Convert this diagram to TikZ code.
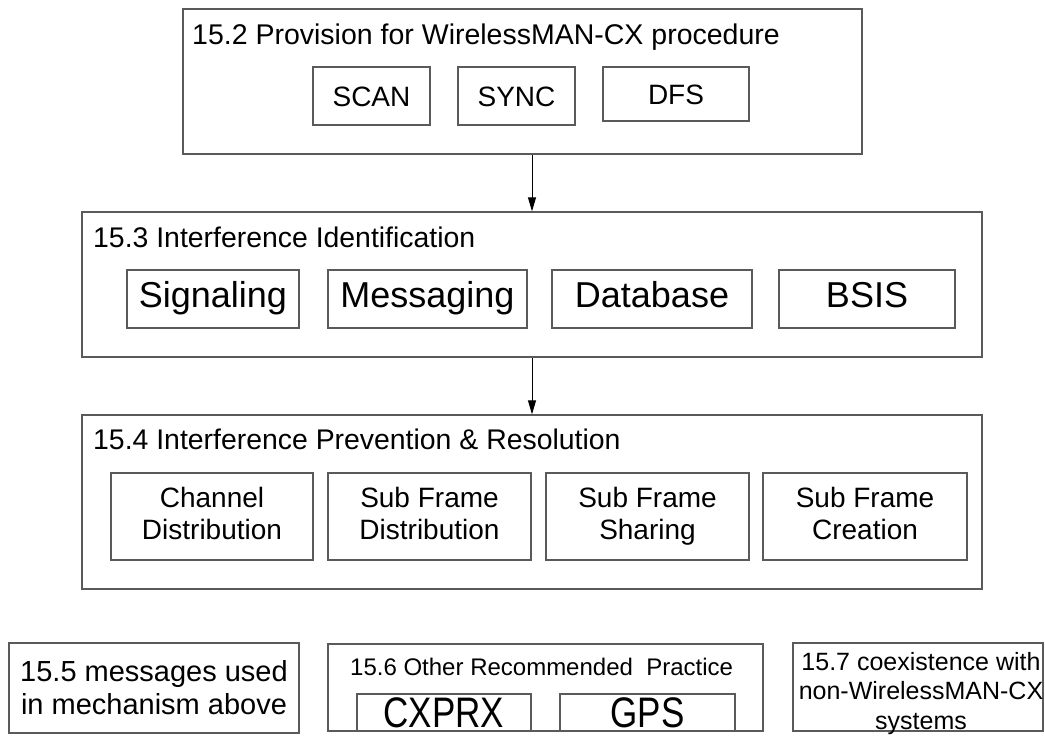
\documentclass[tikz,border=0pt]{standalone}
\usepackage{fontspec}
\setmainfont{Liberation Sans}
\usetikzlibrary{arrows.meta}
\definecolor{edge}{RGB}{90,90,90}

\begin{document}
\begin{tikzpicture}[x=1pt, y=-1pt,
	frame/.style={draw=edge, line width=1.3pt, inner sep=0pt, align=center},
	cell/.style={draw=edge, line width=1.1pt, inner sep=0pt, align=center},
	ttl/.style={anchor=base west, inner sep=0pt},
	arr/.style={-{Triangle[length=14pt,width=8pt]}, line width=0.9pt}]
		\useasboundingbox (0,0) rectangle (1045,736);

		\node[frame, minimum width=679, minimum height=145] (prov) at (522.5,81.5) {};
		\node[ttl, font=\fontsize{28.5}{32}\selectfont] (provttl) at (192,44) {15.2 Provision for WirelessMAN-CX procedure};
		\begin{scope}[every node/.append style={font=\fontsize{28}{32}\selectfont, text height=20pt, text depth=0pt, minimum height=58}]
			\node[cell, minimum width=117] (scan) at (371.5,96) {SCAN};
			\node[cell, minimum width=117] (sync) at (516.5,96) {SYNC};
			\node[cell, minimum width=146, minimum height=54] (dfs) at (676,94) {DFS};
		\end{scope}

		\node[frame, minimum width=900, minimum height=145] (ident) at (532,284.5) {};
		\node[ttl, font=\fontsize{28.4}{32}\selectfont] (identttl) at (93,247) {15.3 Interference Identification};
		\begin{scope}[every node/.append style={font=\fontsize{36}{40}\selectfont, text height=26pt, text depth=10pt, minimum height=58}]
			\node[cell, minimum width=172] (sig) at (213,299) {Signaling};
			\node[cell, minimum width=199] (msg) at (427.5,299) {Messaging};
			\node[cell, minimum width=200] (db) at (652,299) {Database};
			\node[cell, minimum width=176] (bsis) at (867,299) {BSIS};
		\end{scope}

		\node[frame, minimum width=900, minimum height=174] (prev) at (532,502) {};
		\node[ttl, font=\fontsize{28.4}{32}\selectfont] (prevttl) at (93,449) {15.4 Interference Prevention \& Resolution};
		\begin{scope}[every node/.append style={font=\fontsize{28}{32}\selectfont, minimum height=87, execute at end node={\vphantom{g}}}]
			\node[cell, minimum width=202] (chan) at (212,516.5) {Channel\\Distribution};
			\node[cell, minimum width=203] (sfdist) at (429.5,516.5) {Sub Frame\\Distribution};
			\node[cell, minimum width=203] (sfshare) at (647.5,516.5) {Sub Frame\\Sharing};
			\node[cell, minimum width=204] (sfcreate) at (865,516.5) {Sub Frame\\Creation};
		\end{scope}

		\draw[arr] (prov.south -| ident.north) -- (ident.north);
		\draw[arr] (ident.south) -- (prev.north);

		\node[frame, minimum width=290, minimum height=90, font=\fontsize{29}{33}\selectfont] (msgs) at (154,688) {15.5 messages used\\in mechanism above};

		\node[frame, minimum width=435, minimum height=87] (other) at (545.5,687.5) {};
		\node[ttl, font=\fontsize{24}{28}\selectfont] (otherttl) at (350,675) {15.6 Other Recommended\ \ Practice};
		\begin{scope}[every node/.append style={font=\fontsize{35}{40}\selectfont, minimum height=37}]
			\node[cell, minimum width=174] (cxprx) at (444,712.5) {\scalebox{1}[1.22]{CXPRX}};
			\node[cell, minimum width=175] (gps) at (647.5,712.5) {\scalebox{1}[1.22]{GPS}};
		\end{scope}

		\node[frame, minimum width=250, minimum height=88] (coex) at (918,687) {};
		\node[anchor=north, inner sep=0pt, align=center, font=\fontsize{25}{29.5}\selectfont] (coextxt) at (921,652) {15.7 coexistence with\\non-WirelessMAN-CX\\systems};
	\end{tikzpicture}
\end{document}
